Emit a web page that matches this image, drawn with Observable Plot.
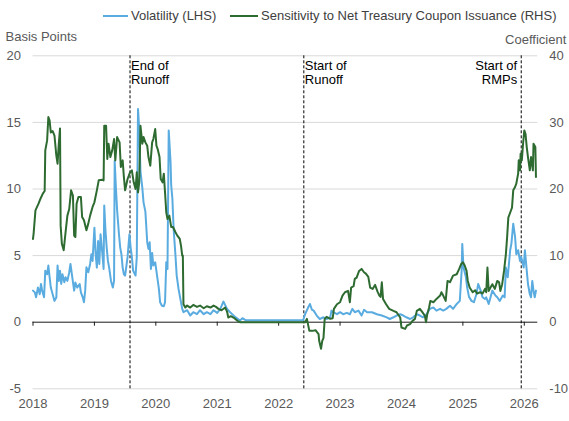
<!DOCTYPE html>
<html>
<head>
<meta charset="utf-8">
<script src="https://cdn.jsdelivr.net/npm/d3@7"></script>
<script src="https://cdn.jsdelivr.net/npm/@observablehq/plot@0.6"></script>
<style>
  html, body { margin: 0; padding: 0; background: #fff; }
  body { width: 569px; height: 421px; overflow: hidden; font-family: "Liberation Sans", Arial, sans-serif; }
  #legend { position: relative; width: 569px; height: 28px; font-size: 13px; color: #404040; }
  #legend .sw { position: absolute; top: 15px; height: 2px; }
  #legend .lab { position: absolute; top: 8px; line-height: 15px; white-space: nowrap; }
</style>
</head>
<body>
<div id="legend">
  <div class="sw" style="left:103px;width:25px;background:#5aace0"></div>
  <div class="lab" style="left:131px">Volatility (LHS)</div>
  <div class="sw" style="left:230px;width:28px;background:#2e6b31"></div>
  <div class="lab" style="left:261px">Sensitivity to Net Treasury Coupon Issuance (RHS)</div>
</div>
<div id="chart"></div>
<script>
// ---- Data (decimal years) ----
const volT = [2018.00,2018.03,2018.05,2018.08,2018.11,2018.13,2018.15,2018.18,2018.20,2018.23,2018.25,2018.27,2018.29,2018.32,2018.35,2018.38,2018.40,2018.42,2018.44,2018.46,2018.48,2018.51,2018.53,2018.56,2018.59,2018.61,2018.64,2018.67,2018.69,2018.72,2018.76,2018.78,2018.81,2018.83,2018.85,2018.87,2018.90,2018.93,2018.95,2018.97,2019.00,2019.02,2019.04,2019.06,2019.08,2019.10,2019.13,2019.15,2019.16,2019.18,2019.20,2019.22,2019.24,2019.27,2019.30,2019.32,2019.33,2019.35,2019.37,2019.40,2019.42,2019.44,2019.46,2019.48,2019.50,2019.54,2019.57,2019.59,2019.61,2019.63,2019.67,2019.69,2019.71,2019.73,2019.75,2019.78,2019.80,2019.83,2019.86,2019.88,2019.90,2019.92,2019.94,2019.96,2019.99,2020.02,2020.05,2020.07,2020.10,2020.13,2020.15,2020.17,2020.19,2020.21,2020.24,2020.25,2020.27,2020.29,2020.32,2020.34,2020.37,2020.40,2020.43,2020.45,2020.51,2020.56,2020.61,2020.67,2020.72,2020.78,2020.83,2020.89,2020.94,2021.00,2021.05,2021.10,2021.16,2021.21,2021.29,2021.37,2021.41,2021.46,2021.60,2021.80,2022.00,2022.20,2022.40,2022.43,2022.48,2022.51,2022.54,2022.57,2022.62,2022.67,2022.73,2022.78,2022.84,2022.86,2022.89,2022.95,2023.00,2023.05,2023.11,2023.16,2023.20,2023.24,2023.30,2023.35,2023.39,2023.44,2023.52,2023.60,2023.68,2023.76,2023.81,2023.87,2023.92,2023.98,2024.03,2024.08,2024.14,2024.19,2024.25,2024.30,2024.35,2024.41,2024.46,2024.52,2024.57,2024.63,2024.68,2024.73,2024.79,2024.84,2024.90,2024.95,2024.98,2024.99,2025.01,2025.05,2025.07,2025.10,2025.14,2025.18,2025.22,2025.25,2025.29,2025.32,2025.36,2025.38,2025.42,2025.45,2025.48,2025.53,2025.56,2025.60,2025.65,2025.68,2025.70,2025.73,2025.77,2025.79,2025.82,2025.85,2025.87,2025.90,2025.93,2025.95,2025.99,2026.01,2026.04,2026.06,2026.09,2026.11,2026.13,2026.15,2026.17,2026.19];
const volV = [2.37,2.24,1.87,2.6,2.1,2.87,2.35,1.87,3.87,3.6,4.25,3.4,2.6,2.1,1.6,1.85,4.25,3.1,3.87,2.87,3.6,3.0,3.37,3.1,3.75,4.37,3.37,2.37,2.98,2.6,2.87,2.24,1.87,1.5,2.37,4.12,3.75,4.37,5.1,4.6,7.1,5.1,4.1,6.1,4.37,6.6,5.1,4.0,8.76,6.9,5.6,4.6,4.1,3.1,2.6,3.1,12.1,10.1,8.4,6.6,5.6,5.1,4.1,3.6,3.5,4.9,6.6,5.6,4.9,3.87,3.5,4.9,16.0,14.5,11.3,10.1,9.0,8.3,6.0,5.5,6.0,4.0,5.2,4.25,4.5,3.5,2.5,1.5,1.24,1.2,1.5,4.5,4.0,14.4,12.0,10.3,9.26,7.0,5.0,3.5,2.5,1.74,1.0,0.75,0.9,0.5,0.75,0.6,0.9,0.6,0.75,0.6,0.9,0.7,1.0,1.55,1.0,0.75,0.4,0.12,0.3,0.15,0.15,0.15,0.15,0.15,0.16,0.6,1.1,1.37,0.95,0.87,0.5,0.24,0.37,0.24,0.37,0.87,0.75,0.6,0.75,0.6,0.7,0.6,1.0,0.75,0.87,0.5,0.93,0.75,0.75,0.6,0.5,0.36,0.24,0.37,0.5,0.6,0.5,0.37,0.24,0.37,0.6,0.5,0.37,0.6,1.0,1.1,0.87,1.0,0.87,1.0,1.24,1.0,1.37,1.6,3.87,5.88,4.1,3.37,2.6,1.9,1.6,1.5,2.1,2.87,2.37,1.87,1.74,1.87,1.37,1.87,2.37,2.0,1.87,1.6,2.0,1.87,4.1,3.37,5.4,5.9,7.4,6.4,5.1,5.4,4.6,4.9,4.1,5.4,3.87,2.87,2.1,1.87,3.1,2.37,1.87,2.37];

const sensT = [2018.00,2018.01,2018.04,2018.09,2018.12,2018.16,2018.19,2018.20,2018.23,2018.25,2018.27,2018.29,2018.32,2018.35,2018.38,2018.40,2018.42,2018.44,2018.45,2018.47,2018.50,2018.53,2018.56,2018.59,2018.62,2018.65,2018.67,2018.69,2018.71,2018.74,2018.78,2018.80,2018.83,2018.87,2018.90,2018.93,2018.97,2019.00,2019.04,2019.07,2019.13,2019.15,2019.16,2019.19,2019.21,2019.23,2019.26,2019.29,2019.32,2019.34,2019.37,2019.41,2019.43,2019.46,2019.48,2019.50,2019.54,2019.58,2019.61,2019.64,2019.67,2019.69,2019.71,2019.73,2019.74,2019.75,2019.78,2019.80,2019.83,2019.86,2019.88,2019.91,2019.94,2019.96,2019.99,2020.01,2020.03,2020.06,2020.08,2020.11,2020.13,2020.15,2020.17,2020.19,2020.22,2020.25,2020.28,2020.32,2020.35,2020.39,2020.41,2020.43,2020.44,2020.45,2020.48,2020.51,2020.56,2020.61,2020.67,2020.72,2020.78,2020.83,2020.89,2020.94,2020.98,2021.02,2021.07,2021.13,2021.16,2021.18,2021.22,2021.28,2021.33,2021.37,2021.60,2021.80,2022.00,2022.20,2022.43,2022.46,2022.50,2022.55,2022.60,2022.65,2022.66,2022.69,2022.71,2022.73,2022.75,2022.78,2022.84,2022.88,2022.90,2022.95,2023.00,2023.04,2023.08,2023.13,2023.16,2023.18,2023.22,2023.24,2023.27,2023.31,2023.35,2023.39,2023.42,2023.46,2023.49,2023.53,2023.57,2023.61,2023.64,2023.66,2023.68,2023.70,2023.75,2023.80,2023.87,2023.92,2023.98,2024.00,2024.06,2024.09,2024.14,2024.18,2024.22,2024.25,2024.30,2024.34,2024.38,2024.40,2024.42,2024.45,2024.47,2024.52,2024.57,2024.63,2024.65,2024.68,2024.72,2024.75,2024.79,2024.84,2024.90,2024.94,2024.97,2025.00,2025.03,2025.06,2025.08,2025.11,2025.16,2025.20,2025.23,2025.28,2025.32,2025.36,2025.38,2025.40,2025.42,2025.45,2025.48,2025.52,2025.56,2025.59,2025.61,2025.64,2025.67,2025.70,2025.72,2025.74,2025.78,2025.80,2025.82,2025.85,2025.87,2025.90,2025.91,2025.93,2025.94,2025.96,2025.98,2026.00,2026.02,2026.04,2026.06,2026.09,2026.11,2026.14,2026.15,2026.18,2026.19];
const sensV = [12.5,13.3,16.8,17.8,18.5,19.3,19.7,25.8,27.3,30.8,30.3,28.5,28.7,28.0,25.0,23.8,26.8,29.1,14.5,11.8,10.8,13.5,16.0,17.0,19.8,19.0,13.0,12.8,17.8,18.8,18.8,15.8,15.3,13.8,14.8,16.0,17.3,18.0,19.8,21.3,21.4,21.3,29.5,29.5,24.5,26.8,24.8,25.8,27.5,24.3,27.8,27.0,23.3,24.3,21.8,19.8,21.5,22.5,22.8,21.0,20.0,22.5,19.5,21.0,25.0,29.5,26.8,27.8,27.0,26.5,24.8,23.5,27.0,27.5,29.0,26.5,26.0,24.8,21.5,21.0,22.3,19.5,16.5,15.5,16.0,14.3,14.3,13.5,13.0,12.5,11.5,10.0,10.0,2.7,2.2,2.5,2.2,2.6,2.3,2.5,2.1,2.4,2.2,2.5,2.3,2.0,1.8,2.2,1.6,0.7,0.9,0.6,0.2,0.0,0.0,0.0,0.0,0.0,0.0,0.5,-1.3,-1.3,-1.2,-1.8,-2.8,-4.0,-2.8,-2.4,0.5,0.8,0.5,0.6,2.0,2.7,3.0,4.0,4.5,4.7,3.0,5.2,5.4,6.5,6.7,7.7,8.0,7.5,7.3,6.8,5.2,5.0,5.6,4.6,4.0,3.8,6.0,3.5,2.7,2.0,1.7,1.5,0.7,-0.8,-1.0,-0.5,-0.3,0.2,0.5,1.7,2.0,1.5,1.0,0.0,1.2,2.2,3.2,3.0,3.5,4.0,4.5,4.0,3.2,6.2,6.0,7.0,7.2,8.0,8.7,9.0,8.5,7.7,6.2,5.2,4.5,4.8,4.3,4.5,4.3,5.0,4.5,8.2,4.7,5.2,5.7,5.0,6.2,6.0,4.7,5.7,7.7,10.2,12.7,15.7,16.7,17.2,19.8,20.3,20.8,22.3,24.3,22.8,25.3,24.3,26.8,28.8,28.3,26.3,24.8,22.8,24.8,22.8,26.8,26.3,21.8];

const yearTicks = [2018,2019,2020,2021,2022,2023,2024,2025,2026];
const leftTicks = [-5,0,5,10,15,20];
const rightTicks = [-10,0,10,20,30,40];
const eventDates = [2019.58, 2022.41, 2025.95];
const eventLabels = ["End of\nRunoff", "Start of\nRunoff", "Start of\nRMPs"];
const eventAnchors = ["start", "start", "end"];

const vol = volT.map((t, i) => ({t, v: volV[i]}));
// right axis (coefficient) is twice the left axis (basis points)
const sens = sensT.map((t, i) => ({t, v: sensV[i] / 2}));
const events = eventDates.map((t, i) => ({t, label: eventLabels[i], anchor: eventAnchors[i]}));

const W = 569, H = 393;
const chart = Plot.plot({
  width: W,
  height: H,
  marginTop: 27.3,
  marginBottom: 32.7,
  marginLeft: 32.5,
  marginRight: 31.7,
  style: {fontFamily: "'Liberation Sans', Arial, sans-serif", fontSize: "13px", background: "#fff", overflow: "visible"},
  x: {domain: [2018, 2026.22]},
  y: {domain: [-5, 20]},
  marks: [
    Plot.gridY(leftTicks.filter(d => d !== 0), {stroke: "#d9d9d9", strokeOpacity: 1, strokeWidth: 1}),
    Plot.ruleY([0], {stroke: "#1a1a1a", strokeWidth: 1}),
    Plot.ruleX(yearTicks, {x: d => d, y1: 0, y2: 0, insetBottom: -4, stroke: "#1a1a1a", strokeWidth: 1}),
    Plot.axisX(yearTicks, {anchor: "bottom", tickSize: 0, tickPadding: 10, tickFormat: d => String(d), fill: "#595959", label: null}),
    Plot.axisY(leftTicks, {anchor: "left", tickSize: 0, tickPadding: 12, fill: "#595959", label: null, tickFormat: d => String(d)}),
    Plot.axisY(leftTicks, {anchor: "right", tickSize: 0, tickPadding: 11.5, fill: "#595959", label: null, tickFormat: d => String(d * 2)}),
    Plot.ruleX(events, {x: "t", y1: -5, y2: 20, stroke: "#000", strokeWidth: 1, strokeDasharray: "3,2"}),
    Plot.text(events.filter(d => d.anchor === "start"), {x: "t", y: 20, text: "label", textAnchor: "start", lineAnchor: "top", dx: 1, dy: 4, lineHeight: 1.08, fill: "#000"}),
    Plot.text(events.filter(d => d.anchor === "end"), {x: "t", y: 20, text: "label", textAnchor: "end", lineAnchor: "top", dx: -4, dy: 4, lineHeight: 1.08, fill: "#000"}),
    Plot.text(["Basis Points"], {frameAnchor: "top-left", textAnchor: "start", lineAnchor: "middle", dx: -27.5, dy: -19.3, fill: "#595959"}),
    Plot.text(["Coefficient"], {frameAnchor: "top-right", textAnchor: "end", lineAnchor: "middle", dx: 28.5, dy: -16, fill: "#595959"}),
    Plot.line(vol, {x: "t", y: "v", stroke: "#5aace0", strokeWidth: 2, strokeLinejoin: "round"}),
    Plot.line(sens, {x: "t", y: "v", stroke: "#2e6b31", strokeWidth: 2, strokeLinejoin: "round"})
  ]
});
document.getElementById("chart").appendChild(chart);
</script>
</body>
</html>
